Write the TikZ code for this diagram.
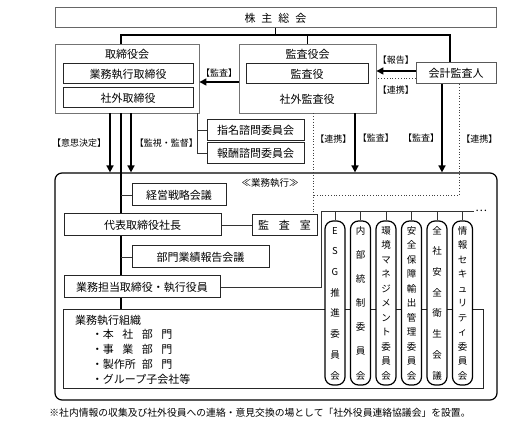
\documentclass[tikz,border=0pt]{standalone}
\usepackage{fontspec}
\setmainfont{Noto Sans CJK JP}
\usepackage{tikz}
\usetikzlibrary{arrows.meta,calc}
\usetikzlibrary{positioning,shapes}
\tikzstyle{line}=[-, line width=1.8pt]
\tikzstyle{thinline}=[-, line width=0.9pt, draw=black!80]
\tikzstyle{flow}=[-{Triangle[length=7pt,width=7pt]}, line width=1.6pt]
\tikzstyle{renkei}=[-, dotted, line width=0.8pt, draw=black!75]
\tikzstyle{group}=[rectangle, draw=black!55, line width=0.9pt, inner sep=0pt]
\tikzstyle{box}=[rectangle, draw=black!85, fill=white, line width=1pt,
		inner sep=0pt, text centered, font=\fontsize{11}{13}\selectfont]
\tikzstyle{iinkai}=[rectangle, draw=black, fill=white, line width=1.2pt,
		rounded corners=8pt, minimum width=20pt, minimum height=164pt,
		inner sep=0pt, font=\fontsize{9.5}{10}\selectfont]
\tikzstyle{kakko}=[inner sep=2pt, font=\fontsize{9}{10}\selectfont]
\newcommand{\tate}[1]{%
  \vbox to 153pt{\offinterlineskip
    \foreach \ch [count=\k] in {#1}{%
      \ifnum\k>1 \vfill\fi
      \hbox to 12pt{\hss\vphantom{会}\ch\hss}}}}

\begin{document}
\begin{tikzpicture}[x=1pt,y=-1pt,font=\fontsize{11}{13}\selectfont]
    \useasboundingbox (0,0) rectangle (507,441);

    \node (Kabunushi) at (275.5,18) [box, draw=black!60,
            minimum width=441pt, minimum height=20pt]
        {株\hspace{6pt}主\hspace{6pt}総\hspace{6pt}会};
    \coordinate (Junction) at (275.5,35);

    \node (Torishimari) at (127,78.5) [group, minimum width=144pt,
            minimum height=69pt] {};
    \node (ToriTitle) [below=2pt of Torishimari.north] {取締役会};
    \node (Gyomu) at (128,74) [box, minimum width=130pt,
            minimum height=20pt] {業務執行取締役};
    \node (Shagai) [box, minimum width=130pt, minimum height=20pt,
            below=3pt of Gyomu] {社外取締役};
    \coordinate (Kanbu) at ($(Torishimari.south)+(-6,0)$);

    \node (Kansa) at (307.5,78.5) [group, minimum width=137pt,
            minimum height=69pt] {};
    \node (KansaTitle) [below=2pt of Kansa.north] {監査役会};
    \node (Kansayaku) at (307,74) [box, minimum width=122pt,
            minimum height=20pt] {監査役};
    \node (ShagaiKansa) at (307,99) {社外監査役};

    \node (Kaikei) at (456,73.5) [box, draw=black!65, minimum width=80pt,
            minimum height=21pt] {会計監査人};

    \node (Shimei) at (255.5,130.5) [box, minimum width=97pt,
            minimum height=21pt] {指名諮問委員会};
    \node (Houshu) [box, minimum width=97pt, minimum height=21pt,
            below=1pt of Shimei] {報酬諮問委員会};

    \draw[line] (Kabunushi.south) -- (Junction);
    \draw[line] (Kanbu |- Torishimari.north) |- (Junction)
        -| ([xshift=-6pt]Kaikei.north);
    \draw[line] (Kansa.north) -- (Kansa.north |- Junction);

    \draw[flow] ($(Kansa.west)+(0,3.5)$) -- ($(Torishimari.east)+(0,3.5)$)
        node[midway, above=2pt, kakko] {【監査】};
    \draw[flow] ($(Kaikei.west)+(0,-2.5)$)
        -- ($(Kansa.east |- Kaikei.west)+(0,-2.5)$)
        node[midway, above=4pt, kakko] {【報告】};
    \draw[renkei] ($(Kaikei.west)+(0,4.5)$)
        -- ($(Kansa.east |- Kaikei.west)+(0,4.5)$)
        node[midway, below=5pt, kakko] {【連携】};

    \draw[thinline] ($(Torishimari.south east)+(-2,0)$) |- (Shimei.west);
    \draw[thinline] ($(Torishimari.south east)+(-2,0)$) |- (Houshu.west);

    \node (Shikkou) at (276,286.5) [rectangle, draw, rounded corners=7pt,
            line width=1.2pt, minimum width=442pt, minimum height=227pt] {};
    \node (ShikkouTitle) at (270,183) [kakko,
            font=\fontsize{9.5}{10}\selectfont] {≪業務執行≫};

    \draw[flow] ($(Torishimari.south)+(-17,0)$)
        -- ($(Torishimari.south |- Shikkou.north)+(-17,0)$)
        node[midway, left=1pt, kakko] {【意思決定】};
    \draw[flow] ($(Torishimari.south)+(4,0)$)
        -- ($(Torishimari.south |- Shikkou.north)+(4,0)$)
        node[midway, right=1pt, kakko] {【監視・監督】};

    \node (Soshiki) at (273,349.5) [box, minimum width=420pt,
            minimum height=79pt, text width=396pt, align=left,
            font=\fontsize{11}{14.75}\selectfont] {
        業務執行組織\\
        \hspace*{17pt}・\makebox[19.5pt][l]{本}\makebox[19.5pt][l]{社}\makebox[19.5pt][l]{部}門\\
        \hspace*{17pt}・\makebox[19.5pt][l]{事}\makebox[19.5pt][l]{業}\makebox[19.5pt][l]{部}門\\
        \hspace*{17pt}・\makebox[39pt][l]{製作所}\makebox[19.5pt][l]{部}門\\
        \hspace*{17pt}・グループ子会社等};

    \draw[line] (Kanbu) -- (Kanbu |- Soshiki.north);

    \node (Keiei) at (179,195) [box, minimum width=94pt,
            minimum height=22pt] {経営戦略会議};
    \node (Daihyo) at (142.5,225) [box, minimum width=157pt,
            minimum height=22pt] {代表取締役社長};
    \node (Kansashitsu) at (284.5,225) [box, minimum width=65pt,
            minimum height=21pt] {監\hspace{10pt}査\hspace{10pt}室};
    \node (Bumon) at (200.5,257) [box, minimum width=137pt,
            minimum height=22pt] {部門業績報告会議};
    \node (Tantou) at (142,287) [box, minimum width=156pt,
            minimum height=22pt] {業務担当取締役・執行役員};

    \draw[thinline] (Kanbu |- Keiei.west) -- (Keiei.west);
    \draw[thinline] (Kanbu |- Bumon.west) -- (Bumon.west);
    \draw[thinline] (Daihyo.east) -- (Kansashitsu.west);

    \coordinate (RenkeiKado) at (459,195);
    \draw[renkei] ($(Kansa.south)+(5.5,0)$)
        -- ($(Kansa.south |- Kansashitsu.north)+(5.5,0)$)
        node[pos=0.25, right, kakko] {【連携】};
    \draw[flow] ($(Kansa.south)+(47.5,0)$)
        -- ($(Kansa.south |- Shikkou.north)+(47.5,0)$)
        node[pos=0.42, right, kakko] {【監査】};
    \draw[flow] ($(Kaikei.south)+(-14,0)$)
        -- ($(Kaikei.south |- Shikkou.north)+(-14,0)$)
        node[pos=0.61, left, kakko] {【監査】};
    \draw[renkei] ($(Kaikei.south)+(3,0)$)
        -- node[pos=0.49, right, kakko] {【連携】} (RenkeiKado)
        -- ($(Kansa.south |- RenkeiKado)+(5.5,0)$);

    \coordinate (Kaigi) at (321,211);
    \coordinate (KaigiEnd) at (474,211);
    \draw[thinline] (Tantou.east) -| (Kaigi) -- (KaigiEnd)
        node[right, inner sep=1pt] {…};

    \node (Esg) at (335,303) [iinkai] {\tate{E,S,G,推,進,委,員,会}};
    \node (Naibu) [iinkai, right=4.3pt of Esg] {\tate{内,部,統,制,委,員,会}};
    \node (Kankyo) [iinkai, right=4.3pt of Naibu]
        {\tate{環,境,マ,ネ,ジ,メ,ン,ト,委,員,会}};
    \node (Anpo) [iinkai, right=4.3pt of Kankyo]
        {\tate{安,全,保,障,輸,出,管,理,委,員,会}};
    \node (Eisei) [iinkai, right=4.3pt of Anpo] {\tate{全,社,安,全,衛,生,会,議}};
    \node (Joho) [iinkai, right=4.3pt of Eisei]
        {\tate{情,報,セ,キ,ュ,リ,テ,ィ,委,員,会}};

    \foreach \n in {Esg,Naibu,Kankyo,Anpo,Eisei,Joho}
        \draw[thinline] (\n.north) -- (\n.north |- Kaigi);

    \node (Chuki) at (260,413) [font=\fontsize{9.8}{11}\selectfont]
        {※社内情報の収集及び社外役員への連絡・意見交換の場として「社外役員連絡協議会」を設置。};

  \end{tikzpicture}
\end{document}
